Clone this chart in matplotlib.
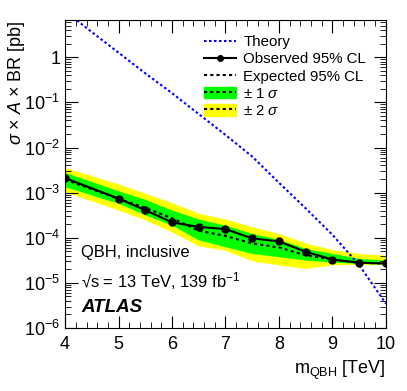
import numpy as np
import matplotlib
matplotlib.use("Agg")
import matplotlib.pyplot as plt
from matplotlib.patches import Patch
from matplotlib.lines import Line2D
from matplotlib.ticker import FixedLocator, LogLocator, NullFormatter, MultipleLocator

plt.rcParams['font.family'] = ['Liberation Sans', 'DejaVu Sans']
plt.rcParams['mathtext.fontset'] = 'custom'
plt.rcParams['mathtext.rm'] = 'Liberation Sans'
plt.rcParams['mathtext.it'] = 'Liberation Sans:italic'
plt.rcParams['mathtext.bf'] = 'Liberation Sans:bold'

# mass points [TeV]
mass = [4.0, 5.0, 5.5, 6.0, 6.5, 7.0, 7.5, 8.0, 8.5, 9.0, 9.5, 10.0]
observed = [2.1e-3, 7.4e-4, 4.1e-4, 2.2e-4, 1.74e-4, 1.56e-4, 9.7e-5, 8.3e-5, 4.9e-5, 3.3e-5, 2.8e-5, 2.7e-5]
expected = [1.95e-3, 7.3e-4, 4.6e-4, 2.7e-4, 1.44e-4, 1.1e-4, 7.5e-5, 6.1e-5, 4.1e-5, 3.3e-5, 2.8e-5, 2.7e-5]
plus1 = [2.8e-3, 1.1e-3, 7.1e-4, 4.1e-4, 2.6e-4, 1.9e-4, 1.25e-4, 9.2e-5, 5.8e-5, 4.5e-5, 3.5e-5, 3.2e-5]
minus1 = [1.35e-3, 5.8e-4, 3.2e-4, 1.9e-4, 9e-5, 6.3e-5, 4.5e-5, 3.8e-5, 3.2e-5, 2.9e-5, 2.7e-5, 2.6e-5]
plus2 = [3.6e-3, 1.56e-3, 9.7e-4, 6e-4, 3.5e-4, 2.6e-4, 1.76e-4, 1.25e-4, 7.7e-5, 5.5e-5, 4.5e-5, 4.1e-5]
minus2 = [1.05e-3, 4.1e-4, 2.5e-4, 1.35e-4, 6.6e-5, 5.3e-5, 3.1e-5, 2.5e-5, 2.1e-5, 2.5e-5, 2.6e-5, 2.5e-5]

theory_mass = [4.0, 4.5, 5.0, 5.5, 6.0, 6.5, 7.0, 7.5, 8.0, 8.5, 9.0, 9.5, 10.0]
theory = [10.5, 3.6, 1.26, 0.44, 0.16, 0.055, 0.019, 6.3e-3, 1.66e-3, 4.5e-4, 1.17e-4, 2.5e-5, 3.5e-6]

ytick_vals = [1e-6, 1e-5, 1e-4, 1e-3, 1e-2, 1e-1, 1]
ytick_labels = [r'$10^{-6}$', r'$10^{-5}$', r'$10^{-4}$', r'$10^{-3}$', r'$10^{-2}$', r'$10^{-1}$', '1']

fig = plt.figure(figsize=(4.07, 3.91), dpi=100)
ax = fig.add_axes([0.16, 0.161, 0.788, 0.788])

ax.fill_between(mass, minus2, plus2, color='#ffff00', lw=0)
ax.fill_between(mass, minus1, plus1, color='#00ff00', lw=0)
ax.plot(mass, expected, color='black', ls=(0, (1.5, 1.5)), lw=1.5)
ax.plot(theory_mass, theory, color='#0000ff', ls=(0, (1.2, 1.2)), lw=1.5)
ax.plot(mass, observed, color='black', lw=1.5, marker='o', ms=5)

ax.set_yscale('log')
ax.set_xlim(4, 10)
ax.set_ylim(1e-6, 6.7)

ax.xaxis.set_major_locator(MultipleLocator(1))
ax.xaxis.set_minor_locator(MultipleLocator(0.2))
ax.yaxis.set_major_locator(FixedLocator(ytick_vals))
ax.set_yticklabels(ytick_labels)
ax.yaxis.set_minor_locator(LogLocator(base=10, subs=np.arange(2, 10), numticks=20))
ax.yaxis.set_minor_formatter(NullFormatter())
ax.tick_params(which='both', direction='in', top=True, right=True, labelsize=13)
ax.tick_params(which='major', length=9)
ax.tick_params(which='minor', length=4.5)
ax.tick_params(axis='x', pad=6)

ax.set_xlabel(r'm$_{\mathregular{QBH}}$ [TeV]', fontsize=13, loc='right')
ax.set_ylabel(r'$\sigma$ $\times$ $A$ $\times$ BR [pb]', fontsize=13, ha='right', va='center')
ax.yaxis.set_label_coords(-0.152, 1.0)

handles = [Line2D([], [], color='#0000ff', ls=(0, (1.2, 1.2)), lw=1.5),
           Line2D([], [], color='black', lw=1.5, marker='o', ms=4),
           Line2D([], [], color='black', ls=(0, (1.5, 1.5)), lw=1.5),
           (Patch(color='#00ff00'), Line2D([], [], color='black', ls=(0, (1.5, 1.5)), lw=1.5)),
           (Patch(color='#ffff00'), Line2D([], [], color='black', ls=(0, (1.5, 1.5)), lw=1.5))]
labels = ['Theory', 'Observed 95% CL', 'Expected 95% CL', r'$\pm$ 1 $\sigma$', r'$\pm$ 2 $\sigma$']
ax.legend(handles, labels, loc='upper left', bbox_to_anchor=(0.392, 0.995), frameon=False,
          fontsize=10.8, handlelength=2.1, handleheight=0.85, labelspacing=0.2, handletextpad=0.5)

ax.text(0.05, 0.245, 'QBH, inclusive', transform=ax.transAxes, fontsize=11.9, va='center')
ax.text(0.05, 0.152, '\u221as = 13 TeV, 139 fb$^{\\mathregular{-1}}$', transform=ax.transAxes, fontsize=11.9, va='center')
ax.text(0.05, 0.066, 'ATLAS', transform=ax.transAxes, fontsize=13.5, fontweight='bold', fontstyle='italic', va='center')

fig.savefig('out.png', dpi=100)
